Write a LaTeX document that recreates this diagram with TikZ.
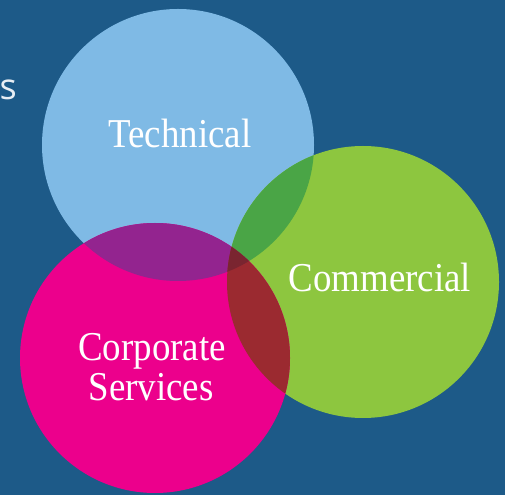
\documentclass[tikz,border=0pt]{standalone}
\usepackage{fontspec}
\newfontfamily\lblfont[FakeStretch=0.9]{Liberation Serif}
\newfontfamily\sidefont{Open Sans}
\definecolor{bgblue}{HTML}{1D5A88}
\definecolor{techblue}{HTML}{7FBAE5}
\definecolor{commgreen}{HTML}{8DC63F}
\definecolor{corpmag}{HTML}{EC008C}
\definecolor{tcgreen}{HTML}{4AA546}
\definecolor{tmpurple}{HTML}{93248F}
\definecolor{cmred}{HTML}{9B2A30}
\definecolor{triplered}{HTML}{7A2530}
\definecolor{sidegray}{HTML}{E8EEF4}
\tikzset{
  lbl/.style={text=white, font=\lblfont\fontsize{41}{46}\selectfont, inner sep=0pt, align=center},
}
\begin{document}
\begin{tikzpicture}[x=1pt,y=1pt]
\fill[bgblue] (0,0) rectangle (505,495);
\useasboundingbox (0,0) rectangle (505,495);
\def\rT{136}
\def\rC{136}
\def\rS{135}
\coordinate (ct) at (178,350);
\coordinate (cc) at (363,213);
\coordinate (cs) at (155,137);
% circles
\fill[techblue] (ct) circle (\rT);
\fill[commgreen] (cc) circle (\rC);
\fill[corpmag] (cs) circle (\rS);
% pairwise overlaps
\begin{scope}
  \clip (ct) circle (\rT);
  \fill[tcgreen] (cc) circle (\rC);
  \fill[tmpurple] (cs) circle (\rS);
\end{scope}
\begin{scope}
  \clip (cc) circle (\rC);
  \fill[cmred] (cs) circle (\rS);
\end{scope}
\begin{scope}
  \clip (ct) circle (\rT);
  \clip (cc) circle (\rC);
  \fill[triplered] (cs) circle (\rS);
\end{scope}
% labels
\node[lbl, anchor=base] (tech) at (180,347) {Technical};
\node[lbl, anchor=base] (comm) at (380,203) {Commercial};
\node[lbl, anchor=base] (corp) at (152,135) {Corporate};
\node[lbl, anchor=base] (serv) at (151,95) {Services};
\node[text=sidegray, font=\sidefont\fontsize{36}{40}\selectfont, inner sep=0pt, anchor=base west] (side) at (-0.5,395) {s};
\end{tikzpicture}
\end{document}
